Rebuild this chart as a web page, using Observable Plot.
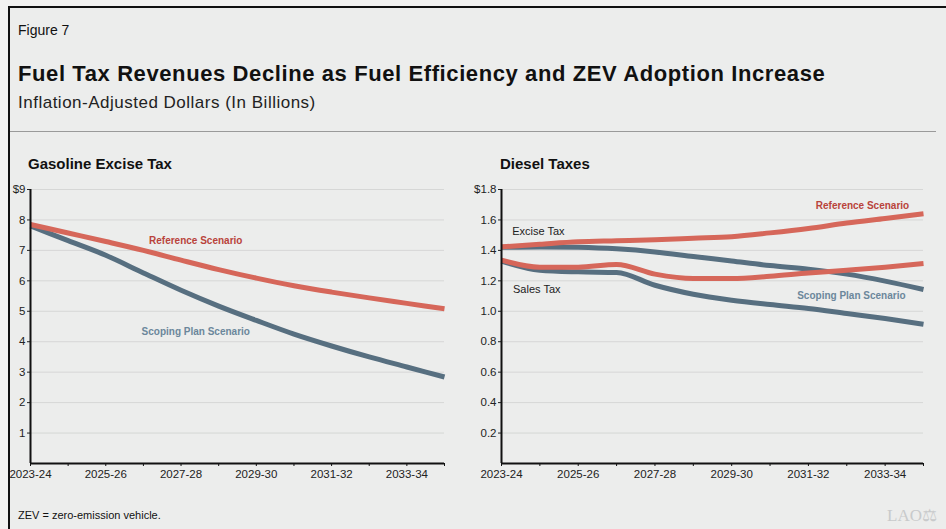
<!DOCTYPE html>
<html><head><meta charset="utf-8">
<script src="https://cdn.jsdelivr.net/npm/d3@7"></script>
<script src="https://cdn.jsdelivr.net/npm/@observablehq/plot@0.6"></script>
<style>
html,body{margin:0;padding:0;background:#f2f2f1;}
body{width:946px;height:529px;overflow:hidden;position:relative;font-family:"Liberation Sans",Arial,Helvetica,sans-serif;}
#frame{position:absolute;left:8px;top:6px;width:960px;height:540px;background:#ecedec;border-left:2px solid #111;border-top:2px solid #111;}
.abs{position:absolute;white-space:nowrap;color:#111;}
#fig{left:18px;top:22px;font-size:14px;}
#title{left:18px;top:61px;font-size:22px;font-weight:bold;letter-spacing:0.6px;}
#sub{left:18px;top:93px;font-size:17px;color:#222;letter-spacing:0.5px;}
#rule{position:absolute;left:10px;top:131px;width:926px;height:1px;background:#9a9a9a;}
.ptitle{font-size:15px;font-weight:bold;top:155px;}
#foot{left:18px;top:509px;font-size:11px;}
#lao{left:887px;top:505px;font-size:17px;font-family:"Liberation Serif",serif;color:#c8cacb;}
.chart{position:absolute;top:175px;}
</style></head>
<body>
<div id="frame"></div>
<div class="abs" id="fig">Figure 7</div>
<div class="abs" id="title">Fuel Tax Revenues Decline as Fuel Efficiency and ZEV Adoption Increase</div>
<div class="abs" id="sub">Inflation-Adjusted Dollars (In Billions)</div>
<div id="rule"></div>
<div class="abs ptitle" style="left:28px">Gasoline Excise Tax</div>
<div class="abs ptitle" style="left:500px">Diesel Taxes</div>
<div class="chart" id="left" style="left:0px"></div>
<div class="chart" id="right" style="left:470px"></div>
<div class="abs" id="foot">ZEV = zero-emission vehicle.</div>
<div class="abs" id="lao">LAO&#x2696;</div>
<script>
const years = [2023, 2024, 2025, 2026, 2027, 2028, 2029, 2030, 2031, 2032, 2033, 2034];
const gasReference = [7.85, 7.57, 7.29, 7.00, 6.68, 6.37, 6.09, 5.84, 5.63, 5.44, 5.26, 5.08];
const gasScoping   = [7.80, 7.32, 6.84, 6.26, 5.69, 5.17, 4.70, 4.25, 3.86, 3.50, 3.17, 2.84];
const dieselExciseReference = [1.423, 1.440, 1.456, 1.463, 1.470, 1.480, 1.490, 1.515, 1.544, 1.580, 1.610, 1.640];
const dieselExciseScoping   = [1.420, 1.423, 1.420, 1.410, 1.390, 1.360, 1.330, 1.300, 1.277, 1.244, 1.198, 1.143];
const dieselSalesReference  = [1.336, 1.290, 1.290, 1.307, 1.244, 1.215, 1.215, 1.230, 1.252, 1.270, 1.290, 1.314];
const dieselSalesScoping    = [1.330, 1.270, 1.259, 1.255, 1.171, 1.112, 1.073, 1.044, 1.018, 0.985, 0.952, 0.915];
const gasTicks = [1, 2, 3, 4, 5, 6, 7, 8, 9];
const dieselTicks = [0.2, 0.4, 0.6, 0.8, 1.0, 1.2, 1.4, 1.6, 1.8];
const yearLabels = ["2023-24", "", "2025-26", "", "2027-28", "", "2029-30", "", "2031-32", "", "2033-34", ""];
const gasLabels = [
  {text: "Reference Scenario", year: 2027.39, value: 7.33, kind: "ref"},
  {text: "Scoping Plan Scenario", year: 2027.39, value: 4.31, kind: "scope"}
];
const dieselLabels = [
  {text: "Reference Scenario", year: 2032.41, value: 1.695, kind: "ref"},
  {text: "Scoping Plan Scenario", year: 2032.12, value: 1.104, kind: "scope"},
  {text: "Excise Tax", year: 2023.28, value: 1.526, kind: "plain"},
  {text: "Sales Tax", year: 2023.3, value: 1.143, kind: "plain"}
];

const RED = "#d6675a", BLUE = "#576f80";
const LABRED = "#b9433b", LABBLUE = "#6b879b";
const yearFmt = d => yearLabels[years.indexOf(d)];

function series(vals, kind) { return years.map((y, i) => ({year: y, value: vals[i], kind})); }

function chart(opts) {
  const {width, marginLeft, marginRight, yMax, yTicks, yFmt, lines, labels} = opts;
  return Plot.plot({
    width, height: 320,
    marginLeft, marginRight, marginTop: 14, marginBottom: 32,
    style: {background: "transparent", fontFamily: "Liberation Sans, Arial, sans-serif", fontSize: "11.5px", color: "#222"},
    x: {domain: [2023, 2034]},
    y: {domain: [0, yMax]},
    marks: [
      Plot.gridY(yTicks, {stroke: "#d6d7d6", strokeOpacity: 1, strokeWidth: 1}),
      Plot.axisY(yTicks, {tickFormat: yFmt, tickSize: 3, tickPadding: 2, stroke: "#222", label: null, fontSize: 11.5}),
      Plot.axisX(years, {tickFormat: yearFmt, tickSize: 3, tickPadding: 3, label: null, fontSize: 11.5, stroke: "#111"}),
      ...lines.filter(l => l.kind === "scope").map(l => Plot.line(series(l.vals, l.kind), {x: "year", y: "value", stroke: BLUE, strokeWidth: 5, curve: "monotone-x", strokeLinecap: "butt"})),
      ...lines.filter(l => l.kind === "ref").map(l => Plot.line(series(l.vals, l.kind), {x: "year", y: "value", stroke: RED, strokeWidth: 5, curve: "monotone-x", strokeLinecap: "butt"})),
      Plot.ruleX([2023], {stroke: "#111", strokeWidth: 2}),
      Plot.ruleY([0], {stroke: "#111", strokeWidth: 2}),
      Plot.text(labels.filter(d => d.kind !== "plain"), {x: "year", y: "value", text: "text", fontWeight: "bold", fontSize: 10,
        fill: d => d.kind === "ref" ? LABRED : LABBLUE}),
      Plot.text(labels.filter(d => d.kind === "plain"), {x: "year", y: "value", text: "text", fontSize: 11, textAnchor: "start", fill: "#222"})
    ]
  });
}

document.getElementById("left").append(chart({
  width: 470, marginLeft: 30, marginRight: 26, yMax: 9, yTicks: gasTicks,
  yFmt: d => d === 9 ? "$9" : String(d),
  lines: [{vals: gasScoping, kind: "scope"}, {vals: gasReference, kind: "ref"}],
  labels: gasLabels
}));
document.getElementById("right").append(chart({
  width: 476, marginLeft: 31, marginRight: 23, yMax: 1.8, yTicks: dieselTicks,
  yFmt: d => d === 1.8 ? "$1.8" : d.toFixed(1),
  lines: [{vals: dieselExciseScoping, kind: "scope"}, {vals: dieselSalesScoping, kind: "scope"},
          {vals: dieselExciseReference, kind: "ref"}, {vals: dieselSalesReference, kind: "ref"}],
  labels: dieselLabels
}));
</script>
</body></html>
